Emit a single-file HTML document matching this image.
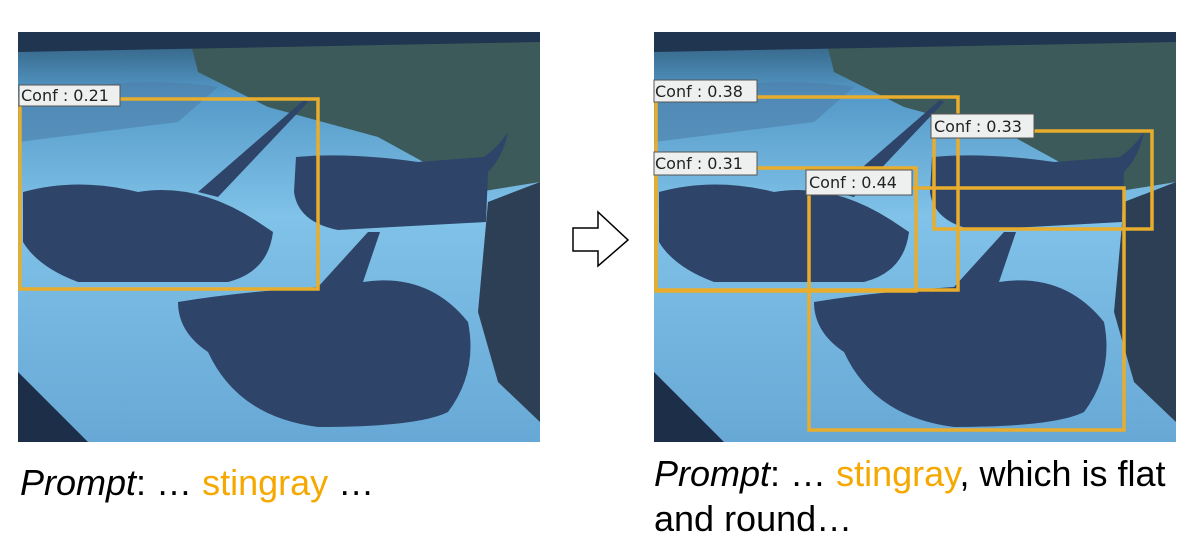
<!DOCTYPE html>
<html><head><meta charset="utf-8"><style>
body{margin:0;background:#fff;width:1195px;height:555px;overflow:hidden;font-family:"Liberation Sans",sans-serif}
.cap{position:absolute;font-size:36px;color:#000;line-height:45px;white-space:nowrap}
.cap i{font-style:italic}
.or{color:#f5a800}
</style></head><body>
<svg width="1195" height="555" style="position:absolute;left:0;top:0">
<defs>
<linearGradient id="bg" x1="0" y1="0" x2="0" y2="1">
<stop offset="0" stop-color="#2f5a78"/><stop offset="0.15" stop-color="#5499c8"/><stop offset="0.45" stop-color="#80c2e8"/><stop offset="1" stop-color="#68a8d6"/>
</linearGradient>
<g id="scene">
<rect x="0" y="0" width="522" height="410" fill="url(#bg)"/>
<path d="M170,0 L522,0 L522,150 L460,160 L360,105 L250,75 L180,40 Z" fill="#3d5a5a"/>
<path d="M0,0 L522,0 L522,10 L0,20 Z" fill="#1f3550"/>
<path d="M0,70 Q100,40 200,55 L160,90 L0,110 Z" fill="#4d7fa8" opacity="0.6"/>
<path d="M470,170 L522,150 L522,390 L480,350 L460,280 Z" fill="#2d3f55"/>
<path d="M0,340 L70,410 L0,410 Z" fill="#1c2e48"/>
<path d="M5,160 Q60,145 120,160 Q180,150 240,190 L255,200 Q250,240 210,250 L60,250 Q20,235 5,210 Z" fill="#2e4468"/>
<path d="M180,160 L286,68 L290,70 L200,165 Z" fill="#2e4468"/>
<path d="M278,125 Q330,120 400,130 L466,125 Q480,115 490,100 Q485,125 470,140 L468,190 L320,198 Q280,190 276,160 Z" fill="#2e4468"/>
<path d="M160,270 Q220,260 300,255 L350,200 L362,200 L345,250 Q410,240 450,290 Q460,340 430,380 Q400,395 300,395 Q220,385 190,320 Q160,300 160,270 Z" fill="#2e4468"/>
</g>
</defs>
<g transform="translate(18,32)"><use href="#scene"/></g>
<g transform="translate(654,32)"><use href="#scene"/></g>
<g fill="none" stroke="#e8ad2c" stroke-width="3.5">
<rect x="20" y="99" width="298" height="190"/>
<rect x="656" y="97" width="302" height="193"/>
<rect x="934" y="131" width="218" height="98"/>
<rect x="656" y="168" width="260" height="123"/>
<rect x="809" y="188" width="315" height="242"/>
</g>
<g font-family="DejaVu Sans, sans-serif" font-size="16" fill="#222">
<rect x="19" y="85" width="101" height="21" fill="#eef0f0" stroke="#555" stroke-width="1"/><text x="21" y="101">Conf : 0.21</text>
<rect x="654" y="80" width="103" height="22" fill="#eef0f0" stroke="#555" stroke-width="1"/><text x="655" y="97">Conf : 0.38</text>
<rect x="931" y="114" width="103" height="24" fill="#eef0f0" stroke="#555" stroke-width="1"/><text x="934" y="132">Conf : 0.33</text>
<rect x="654" y="152" width="103" height="23" fill="#eef0f0" stroke="#555" stroke-width="1"/><text x="655" y="169">Conf : 0.31</text>
<rect x="806" y="170" width="106" height="25" fill="#eef0f0" stroke="#555" stroke-width="1"/><text x="809" y="188">Conf : 0.44</text>
</g>
<path d="M573,228 L598,228 L598,212 L628,240 L598,266 L598,251 L573,251 Z" fill="#fff" stroke="#000" stroke-width="1.5"/>
</svg>
<div class="cap" style="left:20px;top:460px"><i>Prompt</i>: … <span class="or">stingray</span> …</div>
<div class="cap" style="left:654px;top:451px"><i>Prompt</i>: … <span class="or">stingray</span>, which is flat<br>and round…</div>
</body></html>
